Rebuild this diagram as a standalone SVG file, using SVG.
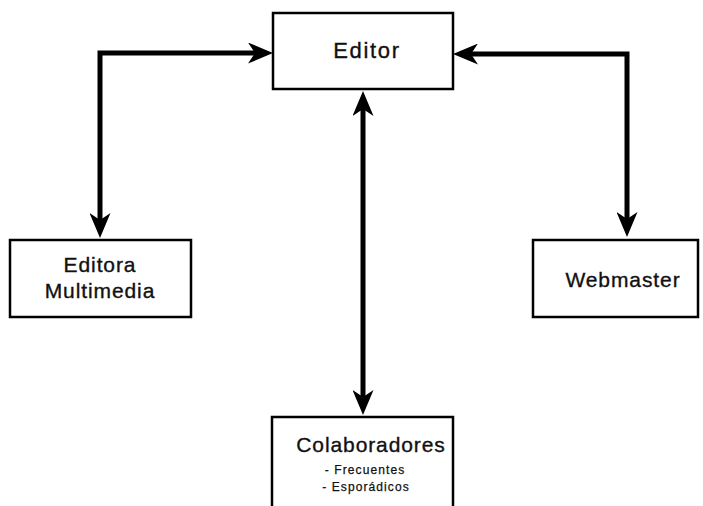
<svg xmlns="http://www.w3.org/2000/svg" width="703" height="506" viewBox="0 0 703 506">
<style>
.box{fill:#fff;stroke:#000;stroke-width:2.5}
.conn{fill:none;stroke:#000;stroke-width:5;stroke-linejoin:miter}
.t{font-family:"Liberation Sans",Arial,sans-serif;fill:#111;stroke:#111;text-anchor:middle}
.big{font-size:21px;letter-spacing:0.9px;stroke-width:0.35px}
.small{font-size:12px;letter-spacing:1.1px;stroke-width:0.25px}
</style>
<defs>
<marker id="ah" markerUnits="userSpaceOnUse" viewBox="0 0 25 21" markerWidth="25" markerHeight="21" refX="10" refY="10.5" orient="auto-start-reverse">
<path d="M0,0 L25,10.5 L0,21 L7,10.5 Z" fill="#000"/>
</marker>
</defs>
<rect width="703" height="506" fill="#fff"/>
<g id="connectors">
<path class="conn" d="M100,223 L100,53 L258,53" marker-start="url(#ah)" marker-end="url(#ah)"/>
<path class="conn" d="M468,54 L627,54 L627,222" marker-start="url(#ah)" marker-end="url(#ah)"/>
<path class="conn" d="M363,106 L363,400" marker-start="url(#ah)" marker-end="url(#ah)"/>
</g>
<g id="editor">
<rect class="box" x="273" y="13" width="180" height="76"/>
<text class="t big" x="367" y="58" style="font-size:22px;letter-spacing:1.7px">Editor</text>
</g>
<g id="editora-multimedia">
<rect class="box" x="10" y="240" width="181" height="77"/>
<text class="t big" x="100" y="272">Editora</text>
<text class="t big" x="100" y="298">Multimedia</text>
</g>
<g id="webmaster">
<rect class="box" x="533" y="240" width="165" height="77"/>
<text class="t big" x="623" y="287">Webmaster</text>
</g>
<g id="colaboradores">
<rect class="box" x="272" y="417" width="181" height="100"/>
<text class="t big" x="371" y="452">Colaboradores</text>
<text class="t small" x="365" y="474">- Frecuentes</text>
<text class="t small" x="366" y="491">- Esporádicos</text>
</g>
</svg>
